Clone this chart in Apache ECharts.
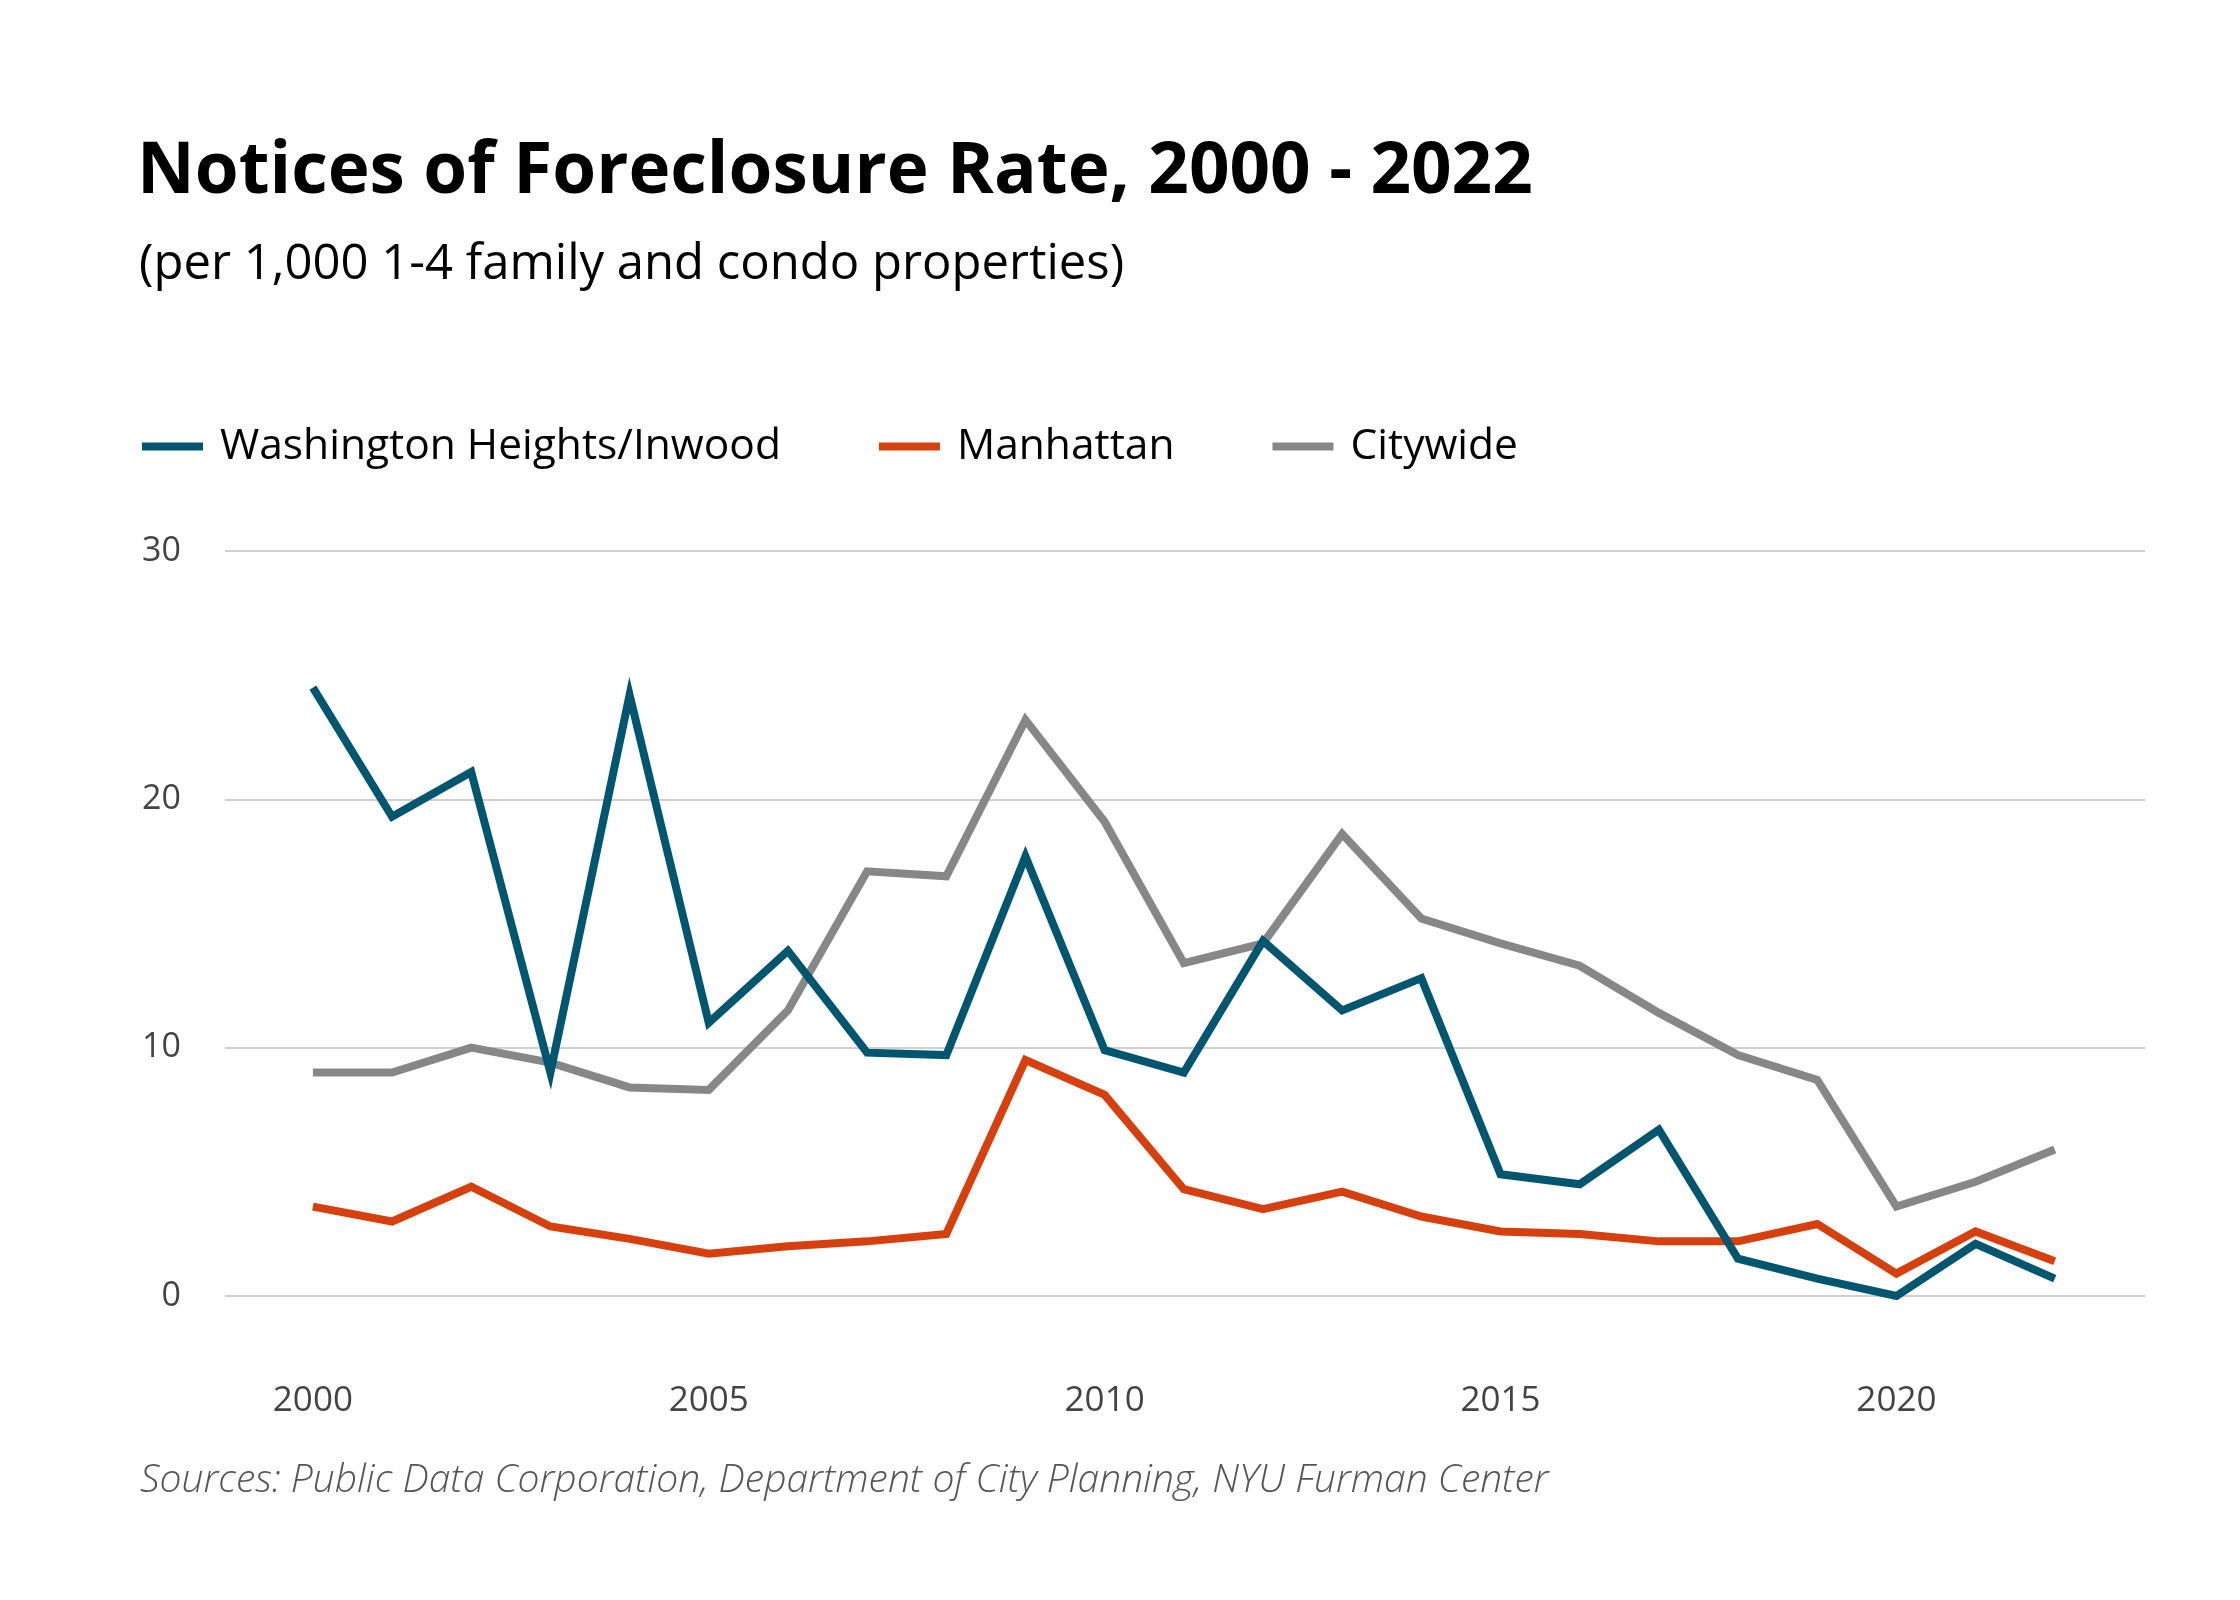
<!DOCTYPE html>
<html>
<head>
<meta charset="utf-8">
<script src="https://cdn.jsdelivr.net/npm/echarts@6/dist/echarts.min.js"></script>
<style>
html,body{margin:0;padding:0;background:#fff;}
#chart{width:2240px;height:1600px;}
</style>
</head>
<body>
<div id="chart"></div>
<script>
const years = [2000,2001,2002,2003,2004,2005,2006,2007,2008,2009,2010,2011,2012,2013,2014,2015,2016,2017,2018,2019,2020,2021,2022];
const washingtonHeights = [24.5,19.3,21.1,9.0,24.2,11.0,13.9,9.8,9.7,17.7,9.9,9.0,14.3,11.5,12.8,4.9,4.5,6.7,1.5,0.7,0.0,2.1,0.7];
const manhattan = [3.6,3.0,4.4,2.8,2.3,1.7,2.0,2.2,2.5,9.5,8.1,4.3,3.5,4.2,3.2,2.6,2.5,2.2,2.2,2.9,0.9,2.6,1.4];
const citywide = [9.0,9.0,10.0,9.4,8.4,8.3,11.5,17.1,16.9,23.2,19.1,13.4,14.2,18.6,15.2,14.2,13.3,11.4,9.7,8.7,3.6,4.6,5.9];
const xTickLabels = [2000,2005,2010,2015,2020];
const yTicks = [0,10,20,30];
const seriesNames = ['Washington Heights/Inwood','Manhattan','Citywide'];
const seriesColors = ['#00566f','#d6400f','#878787'];

const pair = arr => years.map((y,i)=>[y,arr[i]]);
const chart = echarts.init(document.getElementById('chart'), null, {renderer:'canvas'});
const lineSeries = [washingtonHeights, manhattan, citywide].map((arr,i)=>({
  name: seriesNames[i],
  type: 'line',
  data: pair(arr),
  symbol: 'none',
  lineStyle: {width: 8, color: seriesColors[i], join: 'miter'},
  itemStyle: {color: seriesColors[i]},
  z: 3 - i
}));
chart.setOption({
  backgroundColor: '#ffffff',
  animation: false,
  title: [
    {text: 'Notices of Foreclosure Rate, 2000 - 2022', left: 132, top: 132,
     textStyle: {fontFamily: 'Open Sans', fontWeight: 700, fontSize: 71, color: '#000'}},
    {text: '(per 1,000 1-4 family and condo properties)', left: 134, top: 236,
     textStyle: {fontFamily: 'Open Sans', fontWeight: 400, fontSize: 49, color: '#000'}},
    {text: 'Sources: Public Data Corporation, Department of City Planning, NYU Furman Center', left: 135, top: 1456,
     textStyle: {fontFamily: 'Open Sans', fontStyle: 'italic', fontWeight: 300, fontSize: 39, color: '#555'}}
  ],
  legend: {
    left: 137, top: 420,
    icon: 'rect', itemWidth: 61, itemHeight: 8, itemGap: 98,
    data: seriesNames,
    textStyle: {fontFamily: 'Open Sans', fontSize: 42.5, color: '#000', padding: [0,0,0,12]}
  },
  grid: {left: 225, right: 95, top: 551, bottom: 304, containLabel: false},
  xAxis: {
    type: 'value', min: 1998.89, max: 2023.14,
    axisLine: {show: false}, axisTick: {show: false}, splitLine: {show: false},
    axisLabel: {customValues: xTickLabels, formatter: v => String(v), margin: 88,
      fontFamily: 'Open Sans', fontSize: 35, color: '#444'}
  },
  yAxis: {
    type: 'value', min: 0, max: 30, interval: 10,
    axisLine: {show: false}, axisTick: {show: false},
    splitLine: {lineStyle: {color: '#d0d0d0', width: 2}},
    axisLabel: {margin: 44, fontFamily: 'Open Sans', fontSize: 34, color: '#444'}
  },
  series: lineSeries
});
</script>
</body>
</html>
